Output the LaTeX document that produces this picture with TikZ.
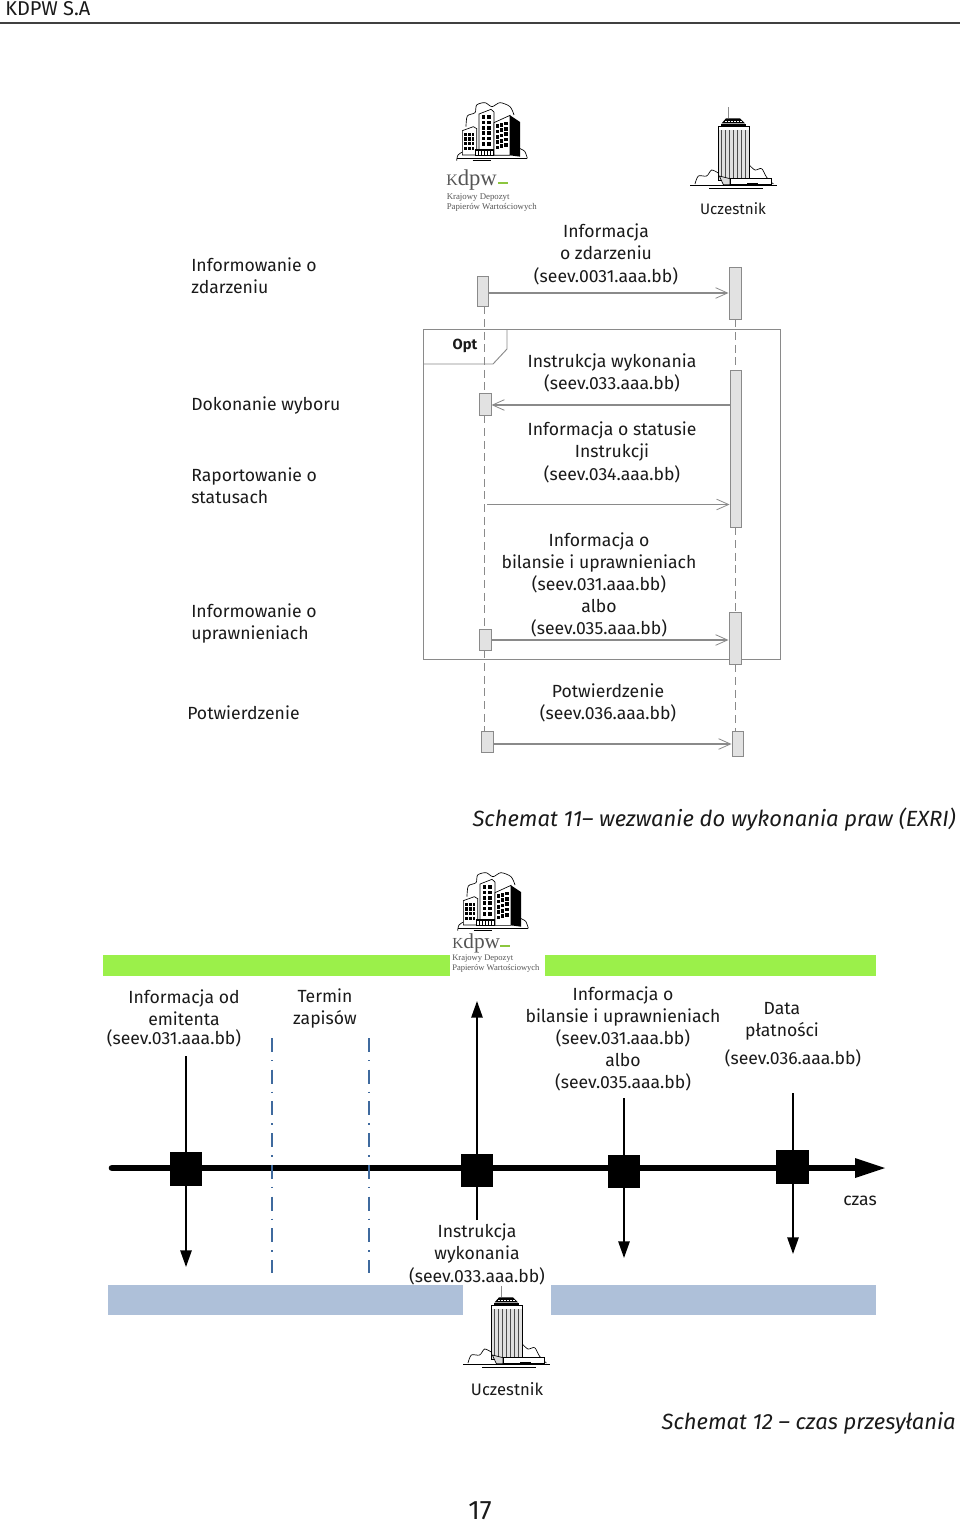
\documentclass[tikz,border=0pt]{standalone}
\usepackage{fontspec}
\setmainfont{Fira Sans}
\newfontfamily\logofont{Liberation Serif}
\usetikzlibrary{arrows.meta}
\definecolor{linegray}{HTML}{8A8A8A}
\definecolor{actfill}{HTML}{E2E2E2}
\definecolor{barGreen}{HTML}{9BF04A}
\definecolor{barBlue}{HTML}{AEC0D9}
\definecolor{dashBlue}{HTML}{3F6A9E}
\definecolor{logoGray}{HTML}{555555}
\definecolor{logoGreen}{HTML}{8CC63F}
\definecolor{textInk}{HTML}{1A1A1A}
\tikzset{
  lbl/.style={font=\fontsize{13.2}{16.6}\selectfont,text=textInk,inner sep=0pt,align=center,yshift=-1pt},
  lbll/.style={lbl,align=left,anchor=west},
  titlelbl/.style={font=\fontsize{16.5}{21}\selectfont\itshape,text=textInk,inner sep=0pt,anchor=east},
  small/.style={font=\fontsize{11.4}{14}\selectfont,text=textInk,inner sep=0pt},
  actbox/.style={draw=linegray,fill=actfill,line width=0.7pt,inner sep=0pt},
  blackbox/.style={fill=black,inner sep=0pt},
  barbox/.style={inner sep=0pt},
  life/.style={draw=linegray,line width=0.6pt,dash pattern=on 6pt off 3.5pt},
  msg/.style={draw=linegray,line width=0.8pt,-{Straight Barb[length=9pt,width=8pt,line width=0.6pt]}},
  timearrow/.style={draw=black,line width=1.3pt,-{Triangle[length=12.5pt,width=8.5pt]}},
  dashdot/.style={draw=dashBlue,line width=1.5pt,dash pattern=on 10.5pt off 6pt on 1pt off 6.3pt},
  kdpwb/.pic={
    \begin{scope}[scale=1/3]
      \draw[black,line width=0.5pt] plot[smooth] coordinates {(108,110)(112,78)(135,68)(140,45)(165,38)(186,50)(210,38)(240,50)(252,75)};
      \draw[black,line width=0.5pt] plot[smooth] coordinates {(80,212)(84,195)(100,185)(112,187)};
      \draw[black,line width=0.5pt] plot[smooth] coordinates {(268,175)(284,184)(292,205)};
      \draw[black,line width=0.7pt] (80,204) -- (292,204);
      \draw[black,line width=1pt] (128,212) -- (182,212);
      \filldraw[fill=white,draw=black,line width=0.5pt] (97,122) -- (130,110) -- (140,116) -- (140,195) -- (97,195) -- cycle;
      \foreach \i in {0,1,2}{\foreach \j in {0,1,2,3}{\fill[black] ({103+\i*11},{128+\j*14}) rectangle ++(8,10);}}
      \filldraw[fill=white,draw=black,line width=0.5pt] (147,72) -- (183,58) -- (192,66) -- (192,196) -- (147,196) -- cycle;
      \foreach \i in {0,1}{\foreach \j in {0,1,2,3,4,5}{\fill[black] ({155+\i*16},{76+\j*16}) rectangle ++(11,11);}}
      \filldraw[fill=white,draw=black,line width=0.5pt] (192,98) -- (240,76) -- (240,196) -- (192,196) -- cycle;
      \foreach \i in {0,1,2}{\foreach \j in {0,1,2,3,4}{\fill[black] ({197+\i*13},{103+\j*16-\i*4}) rectangle ++(10,11);}}
      \fill[black] (240,76) -- (270,96) -- (270,200) -- (240,196) -- cycle;
      \fill[black] (134,178) rectangle (192,198);
      \foreach \i in {0,1,2,3,4,5}{\fill[white] ({139+\i*9},182) rectangle ++(4,14);}
    \end{scope}
  },
  towerb/.pic={
    \begin{scope}[scale=1/3]
      \draw[black,line width=0.5pt] plot[smooth] coordinates {(795,282)(805,258)(830,258)(845,240)(866,250)};
      \draw[black,line width=0.5pt] plot[smooth] coordinates {(958,225)(975,240)(995,236)(1010,262)(1030,282)};
      \fill[black!45] (893,85) rectangle (896,52);
      \fill[black] (872,102) rectangle (948,110);
      \fill[black] (888,85) -- (930,85) -- (945,100) -- (875,100) -- cycle;
      \foreach \i in {0,...,5}{\fill[white] ({885+\i*9},92) rectangle ++(5,5);}
      \filldraw[fill=black!12,draw=black,line width=0.5pt] (865,110) rectangle (958,270);
      \foreach \i in {0,...,6}{\fill[black!70] ({873+\i*12},120) rectangle ++(2.6,143);}
      \fill[white] (866,111) rectangle (957,120);
      \filldraw[fill=black!15,draw=black,line width=0.5pt] (868,258) -- (900,266) -- (900,284) -- (880,284) -- cycle;
      \filldraw[fill=white,draw=black,line width=0.5pt] (900,266) rectangle (1025,284);
      \fill[black] (950,280) rectangle (985,287);
      \draw[black,line width=0.7pt] (780,285) -- (1040,285);
      \draw[black,line width=1pt] (838,296) -- (1000,296);
    \end{scope}
  },
}
\newcommand{\bx}[7]{\node[#1,minimum width={(#4-#2)*0.75pt},minimum height={(#5-#3)*0.75pt},#7] (#6) at ({(#2+#4)/2},{(#3+#5)/2}) {};}
\begin{document}
\begin{tikzpicture}[x=0.75pt,y=-0.75pt]
\useasboundingbox (0,0) rectangle (960,1523);
\fill[white] (0,0) rectangle (960,1523);
% header
\node[small,anchor=west,font=\fontsize{15}{16}\selectfont] (hdr) at (5,9) {KDPW S.A};
\coordinate (ruleL) at (0,23); \coordinate (ruleR) at (960,23);
\draw[black!75,line width=0.9pt] (ruleL) -- (ruleR);
% logos top
\pic at (430,90) {kdpwb};
\pic at (430,90) {towerb};
\node[inner sep=0pt,anchor=west,text=logoGray,font=\logofont\fontsize{17}{20}\selectfont] (logoA) at (446,180) {{\fontsize{12}{12}\selectfont K}dpw};
\coordinate (logoAa) at (498,183); \coordinate (logoAb) at (508,183);
\draw[logoGreen,line width=0.9pt] (logoAa) -- (logoAb);
\node[inner sep=0pt,anchor=west,align=left,text=logoGray,font=\logofont\fontsize{6.6}{7.5}\selectfont] (logoB) at (446.5,202.5) {Krajowy Depozyt\\Papierów Wartościowych};
% frame and activations
\draw[draw=linegray,line width=0.7pt] (423,329.5) rectangle (780,659);
\coordinate (lifeA) at (484.5,0);
\coordinate (lifeB) at (735,0);
\bx{actbox}{477}{276}{488}{306}{a1}{}
\bx{actbox}{729}{267}{741}{319}{b1}{}
\bx{actbox}{479}{393}{491}{415}{a2}{}
\bx{actbox}{730}{370}{741}{527}{b2}{}
\bx{actbox}{479}{629}{491}{650}{a3}{}
\bx{actbox}{729}{612}{741}{664}{b3}{}
\bx{actbox}{481}{731}{493}{752}{a4}{}
\bx{actbox}{732}{731}{743}{756}{b4}{}
\draw[life] (lifeA |- a1.south) -- (lifeA |- a2.north);
\draw[life] (lifeA |- a2.south) -- (lifeA |- a3.north);
\draw[life] (lifeA |- a3.south) -- (lifeA |- a4.north);
\draw[life] (lifeB |- b1.south) -- (lifeB |- b2.north);
\draw[life] (lifeB |- b2.south) -- (lifeB |- b3.north);
\draw[life] (lifeB |- b3.south) -- (lifeB |- b4.north);
\coordinate (tabL) at (423,364); \coordinate (tabC) at (493,364); \coordinate (tabD) at (507,349); \coordinate (tabT) at (507,329.5);
\draw[draw=linegray,line width=0.7pt] (tabL) -- (tabC) -- (tabD) -- (tabT);
\node[small,font=\fontsize{11}{13}\selectfont\bfseries] (opt) at (465,346) {Opt};
% messages
\draw[msg] (a1.east |- 0,293) -- (b1.west |- 0,293);
\draw[msg] (b2.west |- 0,405) -- (a2.east |- 0,405);
\coordinate (m3s) at (487,504.5);
\draw[msg] (m3s) -- (b2.west |- m3s);
\draw[msg] (a3.east |- 0,640) -- (b3.west |- 0,640);
\draw[msg] (a4.east |- 0,744) -- (b4.west |- 0,744);
% labels top
\node[small] (uc1) at (733,209) {Uczestnik};
\node[lbl] (l1) at (606,253) {Informacja\\o zdarzeniu\\(seev.0031.aaa.bb)};
\node[lbl] (l2) at (612,372) {Instrukcja wykonania\\(seev.033.aaa.bb)};
\node[lbl] (l3) at (612,451) {Informacja o statusie\\Instrukcji\\(seev.034.aaa.bb)};
\node[lbl] (l4) at (599,583.5) {Informacja o\\bilansie i uprawnieniach\\(seev.031.aaa.bb)\\albo\\(seev.035.aaa.bb)};
\node[lbl] (l5) at (608,702) {Potwierdzenie\\(seev.036.aaa.bb)};
\node[lbll] (t1) at (191,274) {Informowanie o\\zdarzeniu};
\node[lbll] (t2) at (191,404) {Dokonanie wyboru};
\node[lbll] (t3) at (191,484) {Raportowanie o\\statusach};
\node[lbll] (t4) at (191,622) {Informowanie o\\uprawnieniach};
\node[lbll] (t5) at (187,711) {Potwierdzenie};
\node[titlelbl] (s11) at (956,820) {Schemat 11– wezwanie do wykonania praw (EXRI)};
% bottom bars
\bx{barbox}{103}{955}{450}{976}{g1}{fill=barGreen}
\bx{barbox}{545}{955}{876}{976}{g2}{fill=barGreen}
\bx{barbox}{108}{1285}{463}{1315}{u1}{fill=barBlue}
\bx{barbox}{551}{1285}{876}{1315}{u2}{fill=barBlue}
\pic at (431,860) {kdpwb};
\pic at (203,1269) {towerb};
\node[inner sep=0pt,anchor=west,text=logoGray,font=\logofont\fontsize{16}{20}\selectfont] (logoC) at (452,943) {{\fontsize{11.5}{12}\selectfont K}dpw};
\coordinate (logoCa) at (500,946); \coordinate (logoCb) at (510,946);
\draw[logoGreen,line width=0.9pt] (logoCa) -- (logoCb);
\node[inner sep=0pt,anchor=west,align=left,text=logoGray,font=\logofont\fontsize{6.4}{7.5}\selectfont] (logoD) at (452,963.5) {Krajowy Depozyt\\Papierów Wartościowych};
% timeline
\coordinate (tStart) at (112,1168); \coordinate (tEnd) at (885,1168);
\coordinate (d1t) at (272,1038); \coordinate (d1b) at (272,1273);
\coordinate (d2t) at (369,1038); \coordinate (d2b) at (369,1273);
\draw[black,line width=5pt,line cap=round] (tStart) -- (858,1168);
\fill[black] (855,1158) -- (tEnd) -- (855,1178) -- cycle;
\draw[dashdot] (d1t) -- (d1b);
\draw[dashdot] (d2t) -- (d2b);
\bx{blackbox}{170}{1152}{202}{1186}{q1}{}
\bx{blackbox}{461}{1154}{493}{1187}{q2}{}
\bx{blackbox}{608}{1155}{640}{1188}{q3}{}
\bx{blackbox}{776}{1150}{809}{1184}{q4}{}
\coordinate (v1t) at (186,1056); \coordinate (v1b) at (186,1267);
\coordinate (v2t) at (477,1001); \coordinate (v2b) at (477,1220);
\coordinate (v3t) at (624,1098); \coordinate (v3b) at (624,1258);
\coordinate (v4t) at (793,1093); \coordinate (v4b) at (793,1254);
\draw[timearrow] (v1t) -- (v1b);
\draw[timearrow] (v2b) -- (v2t);
\draw[timearrow] (v3t) -- (v3b);
\draw[timearrow] (v4t) -- (v4b);
% labels bottom
\node[lbl] (p1) at (184,1006) {Informacja od\\emitenta};
\node[lbl] (p1b) at (174,1037) {(seev.031.aaa.bb)};
\node[lbl] (p2) at (325,1007.5) {Termin\\zapisów};
\node[lbl] (p3) at (623,1037.5) {Informacja o\\bilansie i uprawnieniach\\(seev.031.aaa.bb)\\albo\\(seev.035.aaa.bb)};
\node[lbl] (p4) at (782,1020) {Data\\płatności};
\node[lbl] (p4b) at (793,1057) {(seev.036.aaa.bb)};
\node[lbl] (p5) at (860,1200) {czas};
\node[lbl] (p6) at (477,1253) {Instrukcja\\wykonania\\(seev.033.aaa.bb)};
\node[small,font=\fontsize{12.5}{14}\selectfont] (uc2) at (507,1389) {Uczestnik};
\node[titlelbl] (s12) at (956,1423) {Schemat 12 – czas przesyłania};
\node[lbl,font=\fontsize{20}{22}\selectfont] (pg) at (480,1509) {17};
\end{tikzpicture}
\end{document}
